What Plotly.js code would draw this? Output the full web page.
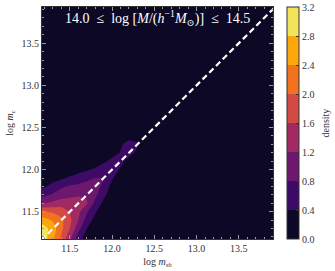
<!DOCTYPE html>
<html>
<head>
<meta charset="utf-8">
<script src="https://cdn.plot.ly/plotly-3.0.1.min.js"></script>
<style>
html,body{margin:0;padding:0;background:#fff;}
#chart{width:335px;height:271px;}
</style>
</head>
<body>
<div id="chart"></div>
<script>
// grid coordinates (log m_sh on x, log m_c on y)
const xGrid = [11.1, 11.2, 11.3, 11.4, 11.5, 11.6, 11.7, 11.8, 11.9, 12.0, 12.1, 12.2, 12.3, 12.4, 12.5];
const yGrid = [11.1, 11.2, 11.3, 11.4, 11.5, 11.6, 11.7, 11.8, 11.9, 12.0, 12.1, 12.2, 12.3, 12.4, 12.5];
// density values, one row per yGrid value
const density = [
  [3.3, 2.9, 2.4, 1.85, 1.25, 0.55, 0.22, 0.05, 0, 0, 0, 0, 0, 0, 0],
  [3.3, 2.95, 2.5, 1.95, 1.35, 0.6, 0.25, 0.05, 0, 0, 0, 0, 0, 0, 0],
  [3.2, 2.95, 2.6, 2.1, 1.6, 0.95, 0.4, 0.1, 0, 0, 0, 0, 0, 0, 0],
  [2.7, 2.55, 2.35, 2.1, 1.7, 1.2, 0.65, 0.25, 0.05, 0, 0, 0, 0, 0, 0],
  [2.1, 2.0, 1.95, 1.8, 1.6, 1.3, 0.85, 0.45, 0.15, 0, 0, 0, 0, 0, 0],
  [1.25, 1.2, 1.3, 1.45, 1.5, 1.42, 1.25, 0.7, 0.3, 0.05, 0, 0, 0, 0, 0],
  [0.65, 0.7, 0.85, 0.95, 1.05, 1.15, 1.15, 0.9, 0.5, 0.2, 0, 0, 0, 0, 0],
  [0.3, 0.35, 0.55, 0.75, 0.85, 0.9, 0.95, 0.95, 0.7, 0.25, 0.05, 0, 0, 0, 0],
  [0.1, 0.15, 0.25, 0.33, 0.45, 0.55, 0.7, 0.8, 0.82, 0.45, 0.15, 0, 0, 0, 0],
  [0.03, 0.05, 0.08, 0.13, 0.2, 0.27, 0.35, 0.45, 0.6, 0.65, 0.35, 0.05, 0, 0, 0],
  [0, 0, 0.02, 0.04, 0.06, 0.08, 0.1, 0.2, 0.33, 0.5, 0.55, 0.2, 0, 0, 0],
  [0, 0, 0, 0, 0.02, 0.03, 0.05, 0.07, 0.1, 0.25, 0.42, 0.6, 0.3, 0, 0],
  [0, 0, 0, 0, 0, 0, 0, 0.02, 0.05, 0.1, 0.35, 0.55, 0.45, 0, 0],
  [0, 0, 0, 0, 0, 0, 0, 0, 0, 0, 0.2, 0.25, 0.25, 0, 0],
  [0, 0, 0, 0, 0, 0, 0, 0, 0, 0, 0, 0, 0, 0, 0]
];
// one-to-one reference line
const diagX = [11.0, 14.0];
const diagY = [11.0, 14.0];
// colour bar ticks
const cbTickVals = [0.0, 0.4, 0.8, 1.2, 1.6, 2.0, 2.4, 2.8, 3.2];
const cbTickText = ["0.0", "0.4", "0.8", "1.2", "1.6", "2.0", "2.4", "2.8", "3.2"];
const axTickVals = [11.5, 12.0, 12.5, 13.0, 13.5];
const axTickText = ["11.5", "12.0", "12.5", "13.0", "13.5"];

const bandColors = ['#0c0826', '#3d0a66', '#6d186e', '#a12a63', '#d24a45', '#f1721f', '#fca70c', '#f2e35c'];

// contour colour map: 8 bands at k/7
const contourScale = bandColors.map((c, i) => [i / (bandColors.length - 1), c]);
// stepped colour bar scale
const stepScale = [];
bandColors.forEach((c, i) => {
  stepScale.push([i / bandColors.length, c]);
  stepScale.push([(i + 1) / bandColors.length, c]);
});

const FONT = 'Liberation Serif, DejaVu Serif, serif';
const NB = '\u00a0';

const traces = [
  {
    type: 'contour',
    x: xGrid, y: yGrid, z: density,
    autocontour: false,
    contours: {start: 0.4, end: 2.8, size: 0.4, coloring: 'fill', showlines: false},
    line: {width: 0, smoothing: 0},
    colorscale: contourScale,
    showscale: false,
    hoverinfo: 'skip'
  },
  {
    type: 'scatter', mode: 'lines',
    x: diagX, y: diagY,
    line: {color: '#ffffff', width: 2.2, dash: '6px,3.5px'},
    hoverinfo: 'skip', showlegend: false
  },
  {
    type: 'scatter', mode: 'markers',
    x: [0], y: [0],
    marker: {
      color: [0], cmin: cbTickVals[0], cmax: cbTickVals[cbTickVals.length - 1],
      colorscale: stepScale, showscale: true, size: 1,
      colorbar: {
        x: 1.062, xanchor: 'left', xpad: 0,
        y: 0.5, yanchor: 'middle', ypad: 0,
        len: 1, lenmode: 'fraction', thickness: 12,
        outlinecolor: '#333', outlinewidth: 1,
        tickvals: cbTickVals, ticktext: cbTickText,
        ticks: 'inside', ticklen: 3, tickcolor: '#333',
        tickfont: {family: FONT, size: 10, color: '#333'}
      }
    },
    hoverinfo: 'skip', showlegend: false
  }
];

const axisCommon = {
  showgrid: false, zeroline: false,
  showline: true, linecolor: '#333', linewidth: 1, mirror: 'ticks',
  ticks: 'inside', ticklen: 4, tickcolor: '#999', tickwidth: 1,
  tickfont: {family: FONT, size: 10, color: '#333'},
  minor: {dtick: 0.1, ticks: 'inside', ticklen: 2, tickcolor: '#999', tickwidth: 1, showgrid: false},
  tickvals: axTickVals, ticktext: axTickText
};

const layout = {
  width: 335, height: 271,
  margin: {l: 42, r: 62, t: 7, b: 32},
  paper_bgcolor: '#ffffff',
  plot_bgcolor: bandColors[0],
  showlegend: false,
  xaxis: Object.assign({}, axisCommon, {
    range: [11.17, 13.905],
    title: {text: 'log <i>m</i><sub><i>sh</i></sub>', font: {family: FONT, size: 10, color: '#333'}, standoff: 4}
  }),
  yaxis: Object.assign({}, axisCommon, {
    range: [11.176, 13.93],
    title: {text: 'log <i>m</i><sub><i>c</i></sub>', font: {family: FONT, size: 10, color: '#333'}, standoff: 6}
  }),
  annotations: [
    {
      xref: 'paper', yref: 'paper', x: 0.5, y: 0.952, xanchor: 'center', yanchor: 'middle',
      text: '14.0' + NB + NB + '≤' + NB + NB + 'log' + NB + '[<i>M</i>/(<i>h</i><sup>−1</sup><i>M</i><sub>⊙</sub>)]' + NB + NB + '≤' + NB + NB + '14.5',
      showarrow: false, font: {family: FONT, size: 14, color: '#ffffff'}
    },
    {
      xref: 'paper', yref: 'paper', x: 1.223, y: 0.5, xanchor: 'center', yanchor: 'middle',
      text: 'density', textangle: -90, showarrow: false,
      font: {family: FONT, size: 10, color: '#333'}
    }
  ]
};

Plotly.newPlot('chart', traces, layout, {displayModeBar: false, staticPlot: true});
</script>
</body>
</html>
